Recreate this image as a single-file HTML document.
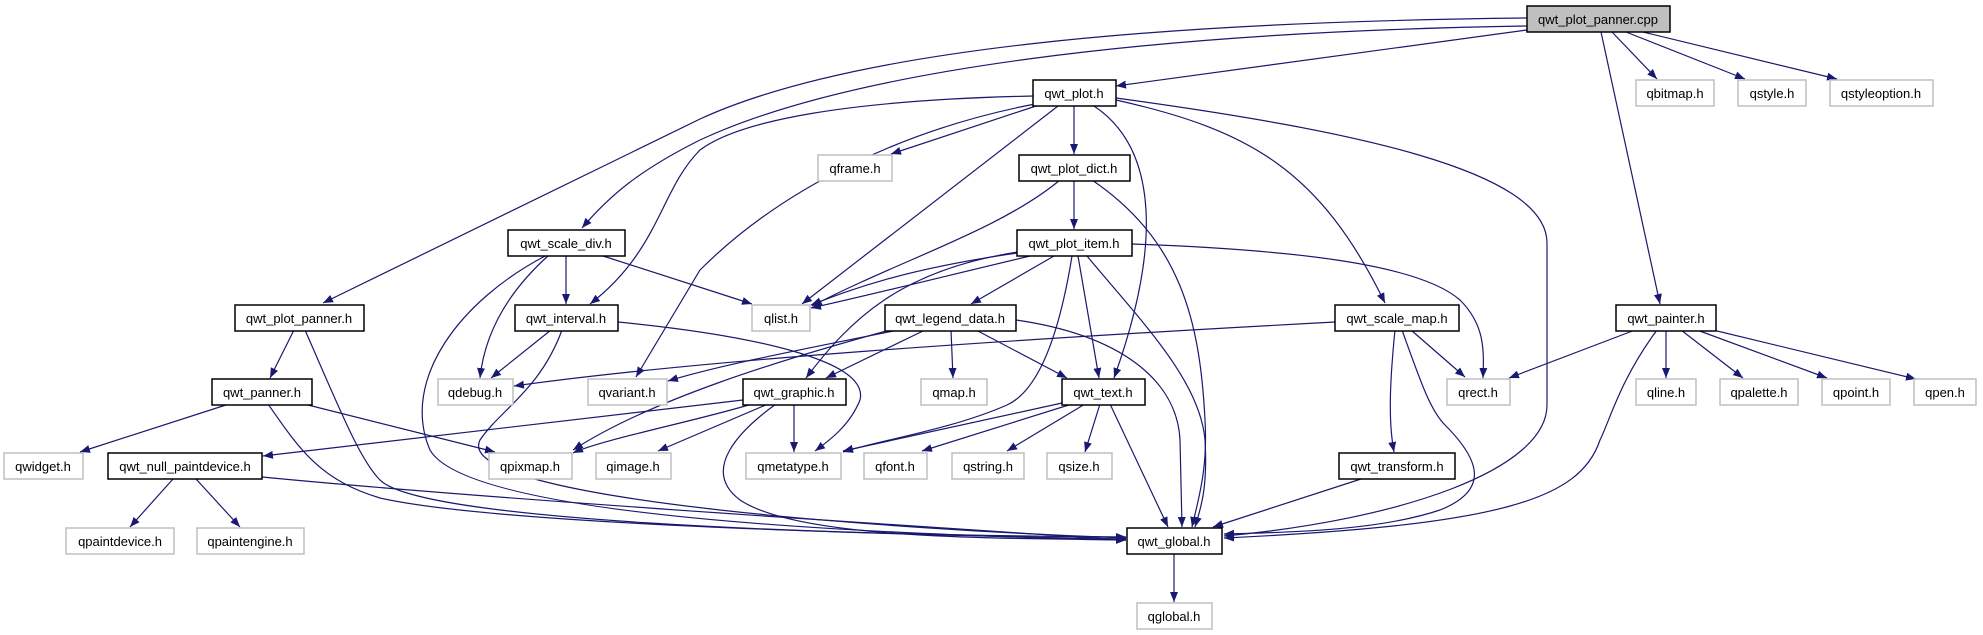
<!DOCTYPE html>
<html><head><meta charset="utf-8"><style>
html,body{margin:0;padding:0;background:#fff;}
svg{display:block;}
text{font-family:"Liberation Sans",Arial,sans-serif;font-size:13px;fill:#000;text-anchor:middle;}
.e{fill:none;stroke:#191970;stroke-width:1.2;marker-end:url(#a);}
.n{fill:#fff;stroke:#000;stroke-width:1.5;}
.g{fill:#fff;stroke:#bfbfbf;stroke-width:1.5;}
</style></head><body>
<svg width="1983" height="635" viewBox="0 0 1983 635" xmlns="http://www.w3.org/2000/svg">
<defs><marker id="a" markerUnits="userSpaceOnUse" markerWidth="11" markerHeight="8" refX="10" refY="4" orient="auto"><path d="M0,0 L10,4 L0,8 z" fill="#191970"/></marker></defs>
<g>
<!-- cpp -->
<path class="e" d="M1527,30 L1116,86"/>
<path class="e" d="M1527,26 C1150,32 850,70 700,140 C640,170 610,195 582,228"/>
<path class="e" d="M1527,18 C1150,22 850,50 700,119 L323,303"/>
<path class="e" d="M1612,32 L1657,79"/>
<path class="e" d="M1626,32 L1745,79"/>
<path class="e" d="M1643,32 L1837,79"/>
<path class="e" d="M1601,32 L1660,304"/>
<!-- qwt_plot -->
<path class="e" d="M1036,106 L891,154"/>
<path class="e" d="M1074,106 L1074,154"/>
<path class="e" d="M1058,106 L802,304"/>
<path class="e" d="M1094,106 C1160,150 1160,250 1114,378"/>
<path class="e" d="M1116,100 C1250,130 1320,170 1385,303"/>
<path class="e" d="M1116,98 C1350,130 1547,170 1547,243 L1547,405 C1547,470 1400,520 1224,536"/>
<path class="e" d="M1033,96 C850,100 740,120 700,150 C660,190 660,250 590,304"/>
<path class="e" d="M1035,104 C900,130 780,190 700,270 L636,377"/>
<!-- plot_dict -->
<path class="e" d="M1074,180 L1074,229"/>
<path class="e" d="M1060,180 C1000,230 900,260 812,306"/>
<path class="e" d="M1092,180 C1180,240 1200,320 1205,420 C1208,470 1198,500 1192,527"/>
<!-- plot_item -->
<path class="e" d="M1017,253 C900,270 850,290 811,305"/>
<path class="e" d="M1030,256 C950,275 870,295 811,308"/>
<path class="e" d="M1018,252 C900,270 850,320 806,378"/>
<path class="e" d="M1054,256 L971,304"/>
<path class="e" d="M1078,256 L1099,378"/>
<path class="e" d="M1072,256 C1060,330 1040,390 1007,405 C950,430 880,440 843,452"/>
<path class="e" d="M1087,256 C1140,320 1200,380 1205,440 C1208,490 1200,510 1195,527"/>
<path class="e" d="M1132,244 C1300,250 1420,265 1460,300 C1485,325 1484,350 1483,378"/>
<!-- legend_data -->
<path class="e" d="M925,330 L826,378"/>
<path class="e" d="M951,330 L953,378"/>
<path class="e" d="M976,330 L1067,378"/>
<path class="e" d="M1016,320 C1120,335 1177,380 1180,440 L1182,527"/>
<path class="e" d="M898,330 C800,350 720,365 668,381"/>
<path class="e" d="M890,330 C780,360 650,400 573,450"/>
<!-- graphic -->
<path class="e" d="M743,400 L263,456"/>
<path class="e" d="M752,404 C700,420 600,440 573,453"/>
<path class="e" d="M768,404 L658,451"/>
<path class="e" d="M794,404 L794,452"/>
<path class="e" d="M776,404 C740,430 700,470 740,500 C800,540 1000,538 1126,540"/>
<!-- qwt_text -->
<path class="e" d="M1062,403 L843,451"/>
<path class="e" d="M1072,404 L922,451"/>
<path class="e" d="M1085,404 L1007,451"/>
<path class="e" d="M1100,404 L1085,452"/>
<path class="e" d="M1110,404 L1168,527"/>
<!-- scale_map -->
<path class="e" d="M1335,322 C1000,340 700,360 514,386"/>
<path class="e" d="M1411,330 L1465,377"/>
<path class="e" d="M1395,330 C1390,380 1388,420 1394,452"/>
<path class="e" d="M1402,330 C1420,380 1430,410 1445,425 C1480,460 1490,490 1440,510 C1380,530 1300,532 1224,534"/>
<!-- painter -->
<path class="e" d="M1635,330 L1509,378"/>
<path class="e" d="M1666,330 L1666,378"/>
<path class="e" d="M1681,330 L1743,378"/>
<path class="e" d="M1697,330 L1827,378"/>
<path class="e" d="M1713,330 L1916,379"/>
<path class="e" d="M1657,330 C1620,380 1610,420 1600,440 C1580,500 1500,525 1224,538"/>
<!-- transform -->
<path class="e" d="M1361,479 L1213,527"/>
<!-- scale_div -->
<path class="e" d="M600,255 L752,304"/>
<path class="e" d="M566,255 L566,304"/>
<path class="e" d="M549,255 C510,290 485,330 480,378"/>
<path class="e" d="M547,255 C460,300 400,380 430,450 C470,520 900,535 1126,540"/>
<!-- interval -->
<path class="e" d="M551,330 L491,378"/>
<path class="e" d="M618,322 C750,335 870,360 860,400 C850,425 830,440 815,451"/>
<path class="e" d="M562,330 C540,390 500,410 480,440 C450,500 900,530 1126,538"/>
<!-- plot_panner.h -->
<path class="e" d="M294,330 L270,378"/>
<path class="e" d="M305,330 C340,410 360,460 380,480 C420,520 800,535 1126,537"/>
<!-- panner -->
<path class="e" d="M229,404 L80,452"/>
<path class="e" d="M304,404 L495,452"/>
<path class="e" d="M268,404 C300,450 320,480 380,498 C500,525 900,535 1126,539"/>
<!-- null paintdevice -->
<path class="e" d="M173,479 L130,527"/>
<path class="e" d="M196,479 L240,527"/>
<path class="e" d="M262,477 C500,500 900,525 1126,540"/>
<!-- global -->
<path class="e" d="M1174,554 L1174,602"/>
</g>
<g>
<rect x="1527" y="6" width="143" height="26" fill="#bfbfbf" stroke="#000" stroke-width="1.5"/><text x="1598" y="24">qwt_plot_panner.cpp</text>
<rect class="n" x="1033" y="80" width="83" height="26"/><text x="1074" y="98">qwt_plot.h</text>
<rect class="g" x="1636" y="80" width="78" height="26"/><text x="1675" y="98">qbitmap.h</text>
<rect class="g" x="1738" y="80" width="68" height="26"/><text x="1772" y="98">qstyle.h</text>
<rect class="g" x="1830" y="80" width="103" height="26"/><text x="1881" y="98">qstyleoption.h</text>
<rect class="g" x="818" y="155" width="74" height="26"/><text x="855" y="173">qframe.h</text>
<rect class="n" x="1019" y="155" width="111" height="26"/><text x="1074" y="173">qwt_plot_dict.h</text>
<rect class="n" x="508" y="230" width="117" height="26"/><text x="566" y="248">qwt_scale_div.h</text>
<rect class="n" x="1017" y="230" width="115" height="26"/><text x="1074" y="248">qwt_plot_item.h</text>
<rect class="n" x="235" y="305" width="129" height="26"/><text x="299" y="323">qwt_plot_panner.h</text>
<rect class="n" x="515" y="305" width="103" height="26"/><text x="566" y="323">qwt_interval.h</text>
<rect class="g" x="752" y="305" width="58" height="26"/><text x="781" y="323">qlist.h</text>
<rect class="n" x="885" y="305" width="131" height="26"/><text x="950" y="323">qwt_legend_data.h</text>
<rect class="n" x="1335" y="305" width="124" height="26"/><text x="1397" y="323">qwt_scale_map.h</text>
<rect class="n" x="1616" y="305" width="100" height="26"/><text x="1666" y="323">qwt_painter.h</text>
<rect class="n" x="212" y="379" width="100" height="26"/><text x="262" y="397">qwt_panner.h</text>
<rect class="g" x="438" y="379" width="75" height="26"/><text x="475" y="397">qdebug.h</text>
<rect class="g" x="588" y="379" width="79" height="26"/><text x="627" y="397">qvariant.h</text>
<rect class="n" x="743" y="379" width="103" height="26"/><text x="794" y="397">qwt_graphic.h</text>
<rect class="g" x="921" y="379" width="66" height="26"/><text x="954" y="397">qmap.h</text>
<rect class="n" x="1062" y="379" width="83" height="26"/><text x="1103" y="397">qwt_text.h</text>
<rect class="g" x="1447" y="379" width="63" height="26"/><text x="1478" y="397">qrect.h</text>
<rect class="g" x="1636" y="379" width="60" height="26"/><text x="1666" y="397">qline.h</text>
<rect class="g" x="1720" y="379" width="78" height="26"/><text x="1759" y="397">qpalette.h</text>
<rect class="g" x="1822" y="379" width="68" height="26"/><text x="1856" y="397">qpoint.h</text>
<rect class="g" x="1914" y="379" width="62" height="26"/><text x="1945" y="397">qpen.h</text>
<rect class="g" x="4" y="453" width="79" height="26"/><text x="43" y="471">qwidget.h</text>
<rect class="n" x="108" y="453" width="154" height="26"/><text x="185" y="471">qwt_null_paintdevice.h</text>
<rect class="g" x="489" y="453" width="83" height="26"/><text x="530" y="471">qpixmap.h</text>
<rect class="g" x="596" y="453" width="75" height="26"/><text x="633" y="471">qimage.h</text>
<rect class="g" x="746" y="453" width="95" height="26"/><text x="793" y="471">qmetatype.h</text>
<rect class="g" x="864" y="453" width="63" height="26"/><text x="895" y="471">qfont.h</text>
<rect class="g" x="952" y="453" width="72" height="26"/><text x="988" y="471">qstring.h</text>
<rect class="g" x="1047" y="453" width="65" height="26"/><text x="1079" y="471">qsize.h</text>
<rect class="n" x="1339" y="453" width="116" height="26"/><text x="1397" y="471">qwt_transform.h</text>
<rect class="g" x="66" y="528" width="108" height="26"/><text x="120" y="546">qpaintdevice.h</text>
<rect class="g" x="197" y="528" width="107" height="26"/><text x="250" y="546">qpaintengine.h</text>
<rect class="n" x="1127" y="528" width="95" height="26"/><text x="1174" y="546">qwt_global.h</text>
<rect class="g" x="1137" y="603" width="75" height="26"/><text x="1174" y="621">qglobal.h</text>
</g>
</svg>
</body></html>
